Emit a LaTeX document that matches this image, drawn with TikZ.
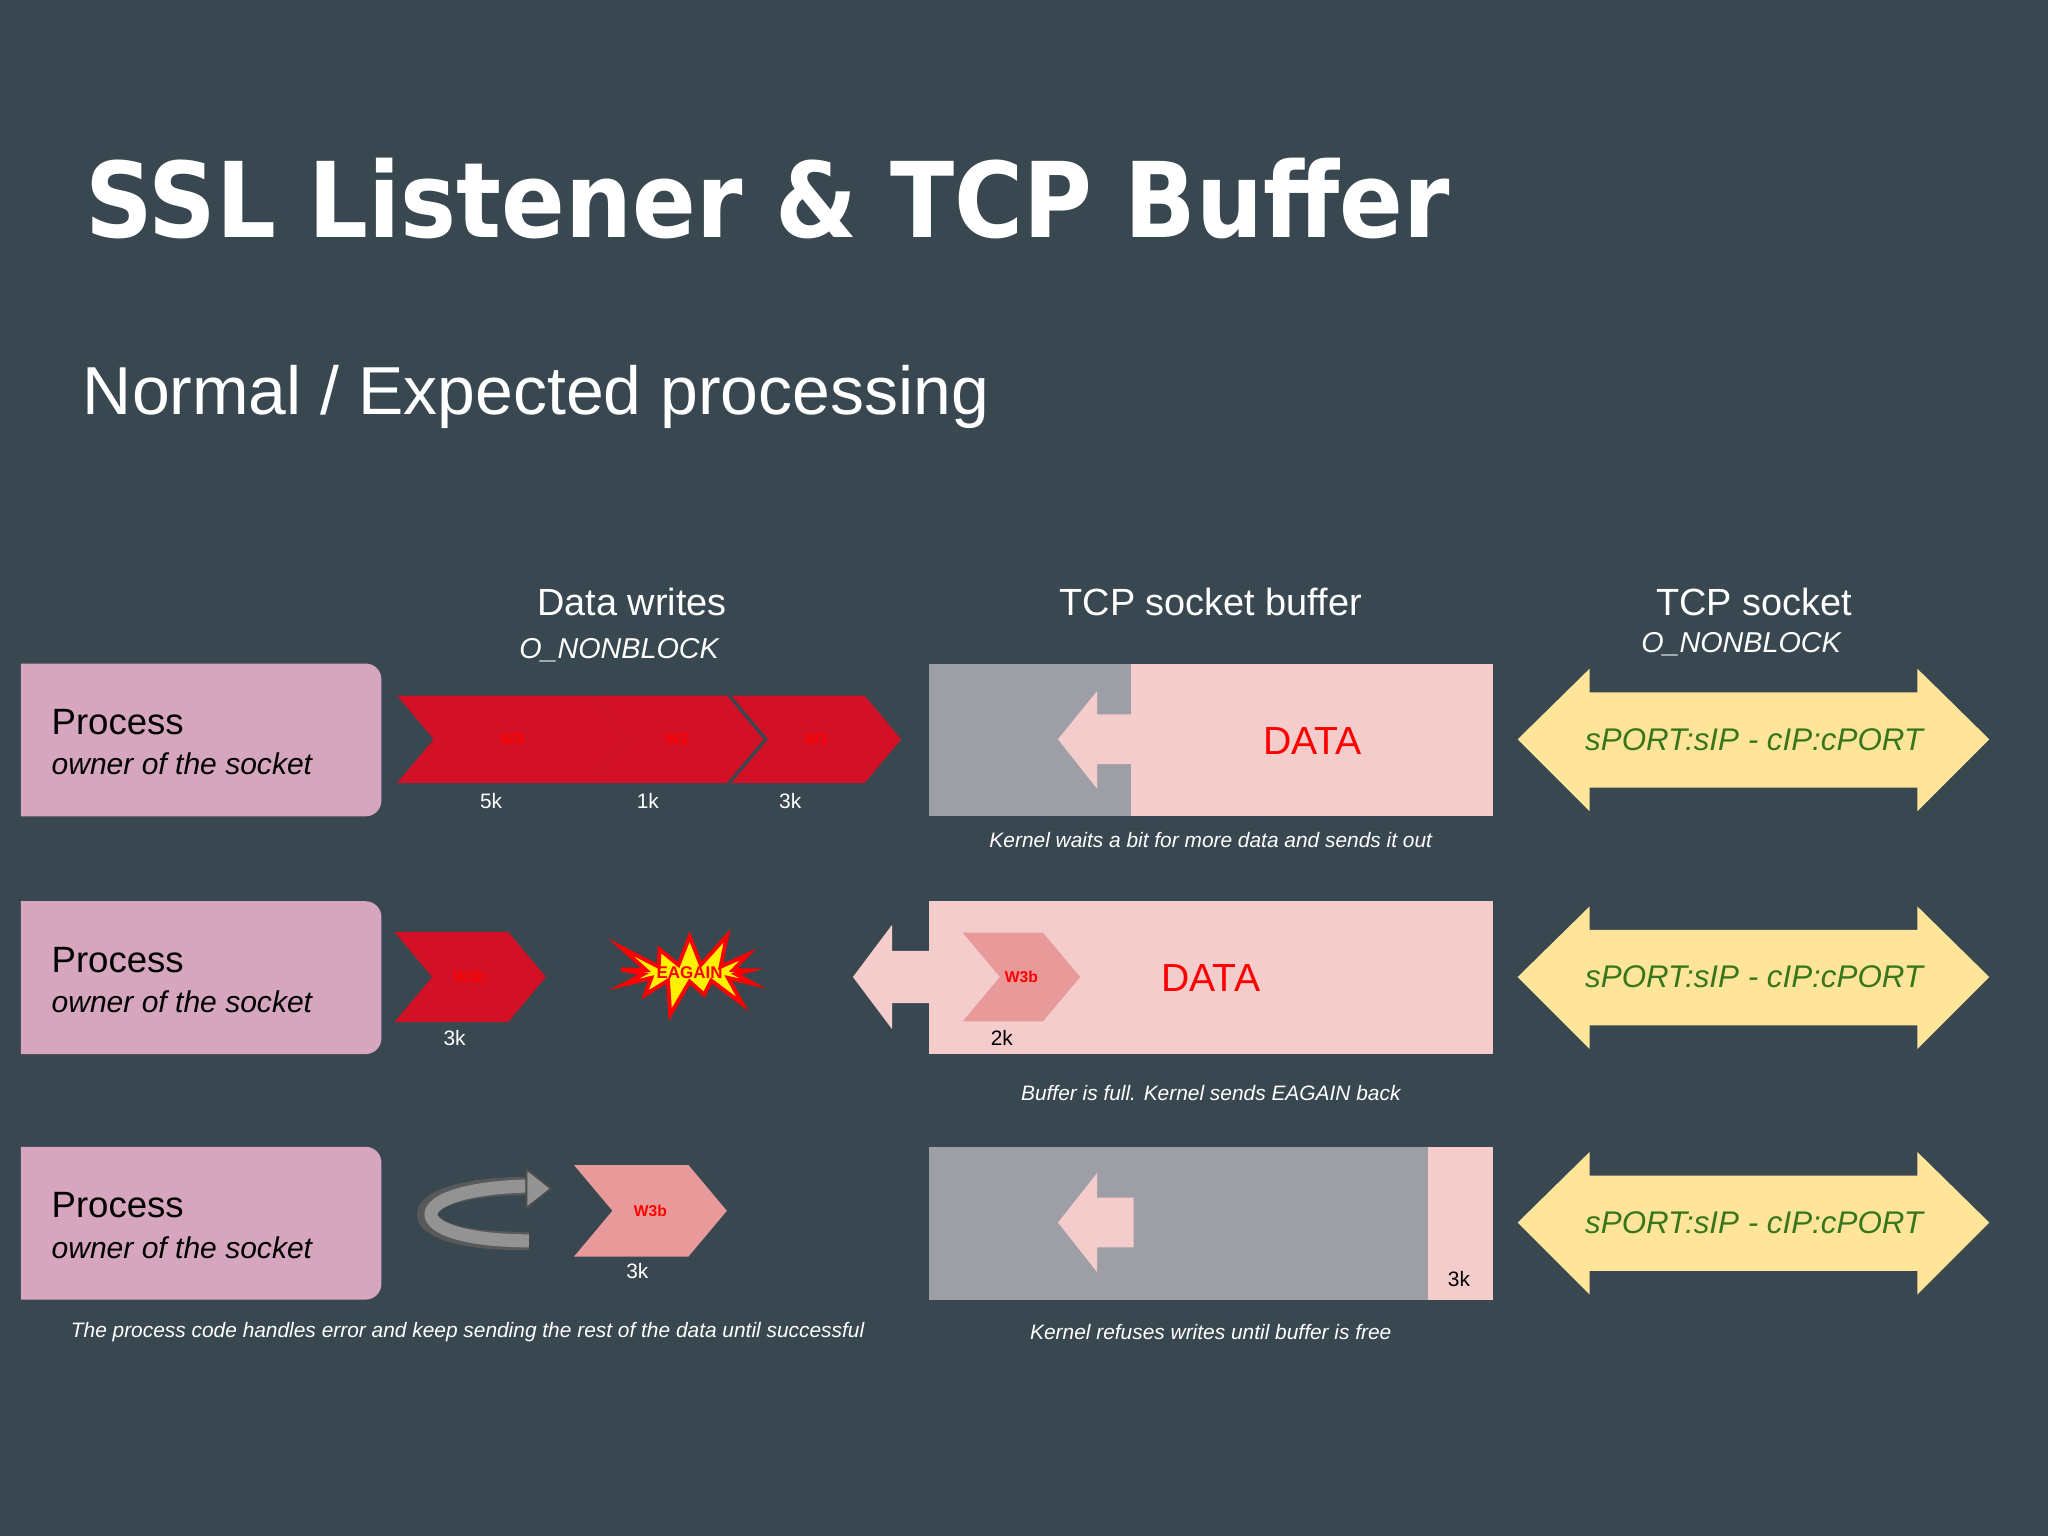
\documentclass[tikz,border=0pt]{standalone}
\usepackage{fontspec}
\setmainfont{Liberation Sans}
\newfontfamily\condfont{DejaVu Sans Condensed}
\usetikzlibrary{positioning,shapes.symbols}
\definecolor{bgslate}{RGB}{56,71,80}
\definecolor{procpink}{RGB}{213,166,190}
\definecolor{wred}{RGB}{210,16,38}
\definecolor{wredtxt}{RGB}{255,0,0}
\definecolor{bufpink}{RGB}{244,204,204}
\definecolor{bufgray}{RGB}{158,158,166}
\definecolor{wpink}{RGB}{232,154,154}
\definecolor{portyellow}{RGB}{255,229,153}
\definecolor{portgreen}{RGB}{56,118,29}
\newcommand\fsz[1]{\fontsize{#1}{#1}\selectfont}
\begin{document}
\begin{tikzpicture}[x=1pt,y=-1pt,
  chev/.style={signal,signal to=east,signal from=west,fill=wred,text=wredtxt,
    inner sep=0pt,font=\fsz{12}\bfseries},
  lbl/.style={text=white,font=\fsz{16}},
  captxt/.style={text=white,font=\fsz{16}\itshape},
  head/.style={text=white,font=\fsz{29}},
  porttxt/.style={text=portgreen,font=\fsz{24}\itshape},
  datatxt/.style={text=wredtxt,font=\fsz{30}}]
\fill[bgslate] (0,0) rectangle (1568,1176);
\useasboundingbox (0,0) rectangle (1568,1176);
% titles
\node[anchor=west,text=white,font=\condfont\bfseries\fsz{80}] (title) at (62,152) {SSL Listener \& TCP Buffer};
\node[anchor=west,text=white,font=\fsz{52}] (subtitle) at (60,304) {Normal / Expected processing};
\node[head] (hwrites) at (484,461) {Data writes};
\node[captxt,font=\fsz{22}\itshape] (hnb1) at (474,498) {O\_NONBLOCK};
\node[head] (hbuf) at (927,461) {TCP socket buffer};
\node[head] (hsock) at (1343,461) {TCP socket};
\node[captxt,font=\fsz{22}\itshape] (hnb2) at (1333,493) {O\_NONBLOCK};
% process boxes
\foreach \y/\n in {508/1,690/2,878/3}{
  \fill[procpink] (16,\y) -- (280,\y) arc[start angle=90,end angle=0,radius=12pt] -- (292,\y+105)
    arc[start angle=0,end angle=-90,radius=12pt] -- (16,\y+117) -- cycle;
  \node[anchor=west,font=\fsz{28}] (proc\n) at (36,\y+45) {Process};
  \node[anchor=west,font=\fsz{23}\itshape] (own\n) at (36,\y+77) {owner of the socket};
  % port arrows
  \fill[portyellow] (1162,\y+58) -- (1217,\y+4) -- (1217,\y+22) -- (1468,\y+22) -- (1468,\y+4)
    -- (1523,\y+58) -- (1468,\y+113) -- (1468,\y+95) -- (1217,\y+95) -- (1217,\y+113) -- cycle;
  \node[porttxt] (port\n) at (1343,\y+58) {sPORT:sIP - cIP:cPORT};
}
% row 1
\node[chev,minimum width=176pt,minimum height=67pt,signal pointer angle=100] (w3) at (392,566) {W3};
\node[chev,minimum width=133pt,minimum height=67pt,signal pointer angle=100] (w2) at (518,566) {W2};
\node[chev,minimum width=130pt,minimum height=67pt,signal pointer angle=100] (w1) at (625,566) {W1};
\node[lbl] (k5) at (376,613) {5k};
\node[lbl] (k1) at (496,613) {1k};
\node[lbl] (k3a) at (605,613) {3k};
\fill[bufgray] (711,508) rectangle (866,625);
\fill[bufpink] (866,508) rectangle (1143,625);
\fill[bufpink] (810,566) -- (840,529) -- (840,547) -- (867,547) -- (867,585) -- (840,585) -- (840,604) -- cycle;
\node[datatxt] (data1) at (1005,567) {DATA};
\node[captxt] (cap1) at (927,643) {Kernel waits a bit for more data and sends it out};
% row 2
\node[chev,minimum width=116pt,minimum height=69pt,signal pointer angle=100] (w3b) at (360,748) {W3b};
\node[lbl] (k3b) at (348,795) {3k};
\node[starburst,starburst points=13,starburst point height=30pt,fill=yellow,draw=wredtxt,
  line width=3pt,minimum width=110pt,minimum height=70pt,text=wredtxt,font=\fsz{13}\bfseries,
  inner sep=0pt] (eagain) at (528,745) {EAGAIN};
\fill[bufpink] (711,690) rectangle (1143,807);
\fill[bufpink] (653,748) -- (683,708) -- (683,728) -- (712,728) -- (712,768) -- (683,768) -- (683,788) -- cycle;
\node[chev,fill=wpink,minimum width=90pt,minimum height=68pt,signal pointer angle=100] (w3bin) at (782,748) {W3b};
\node[datatxt] (data2) at (927,749) {DATA};
\node[text=black,font=\fsz{16}] (k2) at (767,795) {2k};
\node[captxt] (cap2) at (927,837) {Buffer is full. Kernel sends EAGAIN back};
% row 3
\draw[line width=14pt,draw=gray!70!black] (405,950) .. controls (300,952) and (300,908) .. (405,908);
\draw[line width=10pt,draw=gray!85] (405,950) .. controls (305,950) and (305,910) .. (405,908);
\fill[gray!85,draw=gray!60!black,line width=1.5pt] (403,895) -- (422,910) -- (403,925) -- cycle;
\node[chev,fill=wpink,minimum width=117pt,minimum height=70pt,signal pointer angle=100] (w3c) at (498,927) {W3b};
\node[lbl] (k3c) at (488,973) {3k};
\fill[bufgray] (711,878) rectangle (1093,995);
\fill[bufpink] (1093,878) rectangle (1143,995);
\fill[bufpink] (810,936) -- (840,898) -- (840,917) -- (868,917) -- (868,955) -- (840,955) -- (840,974) -- cycle;
\node[text=black,font=\fsz{16}] (k3d) at (1117,979) {3k};
\node[captxt] (cap3a) at (358,1020) {The process code handles error and keep sending the rest of the data until successful};
\node[captxt] (cap3b) at (927,1020) {Kernel refuses writes until buffer is free};
\end{tikzpicture}
\end{document}
